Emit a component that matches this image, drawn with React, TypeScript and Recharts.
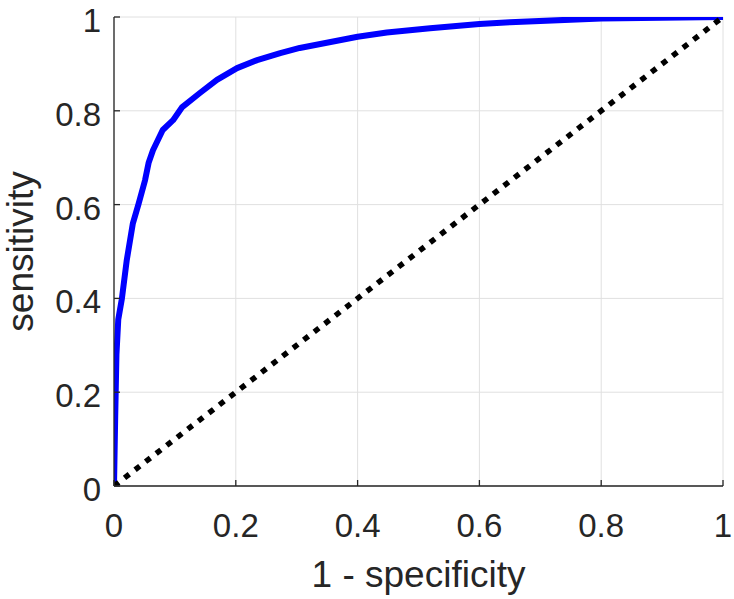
import { LineChart, Line, XAxis, YAxis, CartesianGrid } from "recharts";

// ROC curve (false positive rate vs true positive rate)
const rocFpr = [
  0, 0.002, 0.004, 0.007, 0.013, 0.021, 0.031, 0.04, 0.051, 0.057, 0.064, 0.08, 0.097,
  0.112, 0.141, 0.169, 0.202, 0.235, 0.273, 0.305, 0.4, 0.448, 0.519, 0.6, 0.65, 0.8, 1,
];
const rocTpr = [
  0, 0.15, 0.28, 0.355, 0.4, 0.482, 0.56, 0.6, 0.652, 0.69, 0.716, 0.759, 0.78,
  0.808, 0.838, 0.866, 0.891, 0.908, 0.923, 0.934, 0.958, 0.967, 0.976, 0.985, 0.989, 0.997, 1,
];

// chance line
const chanceFpr = [0, 1];
const chanceTpr = [0, 1];

const xTicks = [0, 0.2, 0.4, 0.6, 0.8, 1];
const yTicks = [0, 0.2, 0.4, 0.6, 0.8, 1];

const xLabel = "1 - specificity";
const yLabel = "sensitivity";

const rocData = rocFpr.map((fpr, i) => ({ fpr, tpr: rocTpr[i] }));
const chanceData = chanceFpr.map((fpr, i) => ({ fpr, tpr: chanceTpr[i] }));

const FONT = "'Liberation Sans', Arial, Helvetica, sans-serif";
const INK = "#262626";

function XTick(props: any) {
  const { x, y, payload } = props;
  return (
    <g>
      <line x1={x} x2={x} y1={y} y2={y - 6} stroke={INK} strokeWidth={1.3} />
      <text x={x} y={y + 51} textAnchor="middle" fontSize={33} fontFamily={FONT} fill={INK}>
        {payload.value}
      </text>
    </g>
  );
}

function YTick(props: any) {
  const { x, y, payload } = props;
  return (
    <g>
      <line x1={x} x2={x + 6} y1={y} y2={y} stroke={INK} strokeWidth={1.3} />
      <text x={x - 13} y={y + 15} textAnchor="end" fontSize={33} fontFamily={FONT} fill={INK}>
        {payload.value}
      </text>
    </g>
  );
}

function XAxisLabel(props: any) {
  const { viewBox } = props;
  const cx = viewBox.x + viewBox.width / 2;
  return (
    <text x={cx} y={viewBox.y + 101} textAnchor="middle" fontSize={37} fontFamily={FONT} fill={INK}>
      {xLabel}
    </text>
  );
}

function YAxisLabel(props: any) {
  const { viewBox } = props;
  const cy = viewBox.y + viewBox.height / 2;
  return (
    <text
      x={33}
      y={cy}
      transform={`rotate(-90, 33, ${cy})`}
      textAnchor="middle"
      fontSize={37}
      fontFamily={FONT}
      fill={INK}
    >
      {yLabel}
    </text>
  );
}

export default function App() {
  return (
    <div style={{ position: "absolute", left: 0, top: 0, background: "#fff" }}>
      <LineChart width={734} height={599} margin={{ top: 17, right: 11, left: 54, bottom: 73 }}>
        <CartesianGrid stroke="#e0e0e0" strokeWidth={1} />
        <XAxis
          type="number"
          dataKey="fpr"
          domain={[0, 1]}
          ticks={xTicks}
          height={40}
          tickSize={0}
          tickMargin={0}
          tickLine={false}
          axisLine={{ stroke: INK, strokeWidth: 1.3 }}
          tick={<XTick />}
          label={<XAxisLabel />}
          allowDataOverflow
        />
        <YAxis
          type="number"
          dataKey="tpr"
          domain={[0, 1]}
          ticks={yTicks}
          width={60}
          tickSize={0}
          tickMargin={0}
          tickLine={false}
          axisLine={{ stroke: INK, strokeWidth: 1.3 }}
          tick={<YTick />}
          label={<YAxisLabel />}
          allowDataOverflow
        />
        <Line
          data={rocData}
          dataKey="tpr"
          type="linear"
          stroke="#0000ff"
          strokeWidth={6}
          strokeLinejoin="round"
          dot={false}
          activeDot={false}
          isAnimationActive={false}
        />
        <Line
          data={chanceData}
          dataKey="tpr"
          type="linear"
          stroke="#000000"
          strokeWidth={5.5}
          strokeDasharray="6 7.3"
          dot={false}
          activeDot={false}
          isAnimationActive={false}
        />
      </LineChart>
    </div>
  );
}
